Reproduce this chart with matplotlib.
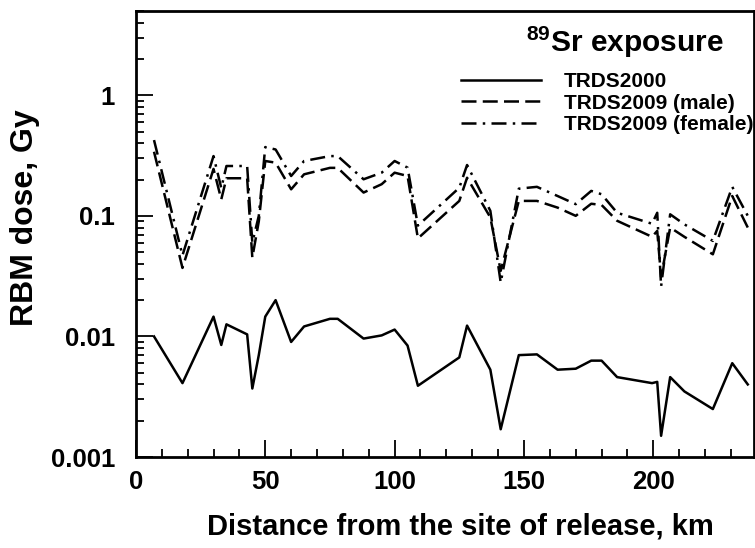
import numpy as np
import matplotlib
matplotlib.use('Agg')
import matplotlib.pyplot as plt
from matplotlib.ticker import FixedLocator, LogLocator, NullFormatter

plt.rcParams['font.family'] = ['Liberation Sans', 'DejaVu Sans']
plt.rcParams['font.weight'] = 'bold'
plt.rcParams['mathtext.fontset'] = 'custom'
plt.rcParams['mathtext.bf'] = 'Liberation Sans:bold'
plt.rcParams['mathtext.rm'] = 'Liberation Sans:bold'

# distance from release point, km
distance = [7, 18, 30, 33, 35, 43, 45, 47.5, 50, 54, 60, 65, 75, 78, 88, 95,
            100, 105, 109, 125, 128, 137, 141, 148, 155, 163, 170, 176, 180,
            186, 199.5, 201.5, 203, 206.5, 212, 223, 230.5, 236.5]

# RBM dose, Gy
trds2000 = [0.0100, 0.0041, 0.0146, 0.0085, 0.0126, 0.0104, 0.0037, 0.0070,
            0.0146, 0.0200, 0.0090, 0.0121, 0.0140, 0.0140, 0.0096, 0.0102,
            0.0114, 0.0084, 0.0039, 0.0067, 0.0123, 0.0053, 0.0017, 0.0070,
            0.0071, 0.0053, 0.0054, 0.0063, 0.0063, 0.0046, 0.0041, 0.0042,
            0.0015, 0.0046, 0.0035, 0.0025, 0.0060, 0.0040]

trds2009_male = [0.34, 0.037, 0.245, 0.137, 0.205, 0.205, 0.045, 0.09, 0.285,
                 0.276, 0.166, 0.221, 0.25, 0.25, 0.156, 0.183, 0.228, 0.214,
                 0.065, 0.133, 0.207, 0.097, 0.035, 0.133, 0.133, 0.117, 0.10,
                 0.126, 0.123, 0.091, 0.067, 0.075, 0.031, 0.080, 0.067, 0.048,
                 0.146, 0.080]

trds2009_female = [0.425, 0.047, 0.313, 0.17, 0.259, 0.259, 0.06, 0.10, 0.372,
                   0.355, 0.214, 0.285, 0.313, 0.313, 0.201, 0.228, 0.285, 0.251,
                   0.083, 0.171, 0.264, 0.110, 0.028, 0.168, 0.174, 0.146, 0.125,
                   0.161, 0.151, 0.106, 0.086, 0.106, 0.026, 0.103, 0.085, 0.062,
                   0.174, 0.100]

y_ticks = [0.001, 0.01, 0.1, 1]
y_ticklabels = ['0.001', '0.01', '0.1', '1']

fig = plt.figure(figsize=(7.55, 5.48), dpi=100)
ax = fig.add_axes([0.180, 0.166, 0.819, 0.814])

lw = 1.8
ax.plot(distance, trds2000, color='black', lw=lw, ls='-', label='TRDS2000')
ax.plot(distance, trds2009_male, color='black', lw=lw, ls=(0, (6, 2.5)),
        label='TRDS2009 (male)')
ax.plot(distance, trds2009_female, color='black', lw=lw,
        ls=(0, (6, 2.5, 1, 2.5)), label='TRDS2009 (female)')

ax.set_yscale('log')
ax.set_xlim(0, 239)
ax.set_ylim(0.001, 5)

ax.yaxis.set_major_locator(FixedLocator(y_ticks))
ax.set_yticklabels(y_ticklabels)
ax.yaxis.set_minor_locator(LogLocator(base=10, subs=np.arange(2, 10)))
ax.yaxis.set_minor_formatter(NullFormatter())
ax.set_xticks([0, 50, 100, 150, 200])
ax.set_xticks(np.arange(10, 240, 10), minor=True)

ax.tick_params(which='both', direction='in', top=False, right=False,
               labelsize=18.5, width=1.3)
ax.tick_params(which='major', length=12)
ax.tick_params(axis='y', which='major', pad=15)
ax.tick_params(axis='x', which='major', pad=9)
ax.tick_params(which='minor', length=6)
for lab in ax.get_xticklabels() + ax.get_yticklabels():
    lab.set_fontweight('bold')
for sp in ax.spines.values():
    sp.set_linewidth(2)

ax.set_xlabel('Distance from the site of release, km', fontsize=21,
              fontweight='bold')
ax.xaxis.set_label_coords(0.524, -0.125)
ax.set_ylabel('RBM dose, Gy', fontsize=23, fontweight='bold')
ax.yaxis.set_label_coords(-0.155, 0.536)

ax.text(0.791, 0.930, r'$\mathbf{^{89}}$Sr exposure', transform=ax.transAxes,
        ha='center', va='center', fontsize=21.5, fontweight='bold')
ax.legend(loc='upper right', bbox_to_anchor=(0.998, 0.863), frameon=False,
          fontsize=15, handlelength=3.8, handletextpad=1.1, labelspacing=0.12,
          borderaxespad=0, borderpad=0)

fig.savefig('out.png', dpi=100)
